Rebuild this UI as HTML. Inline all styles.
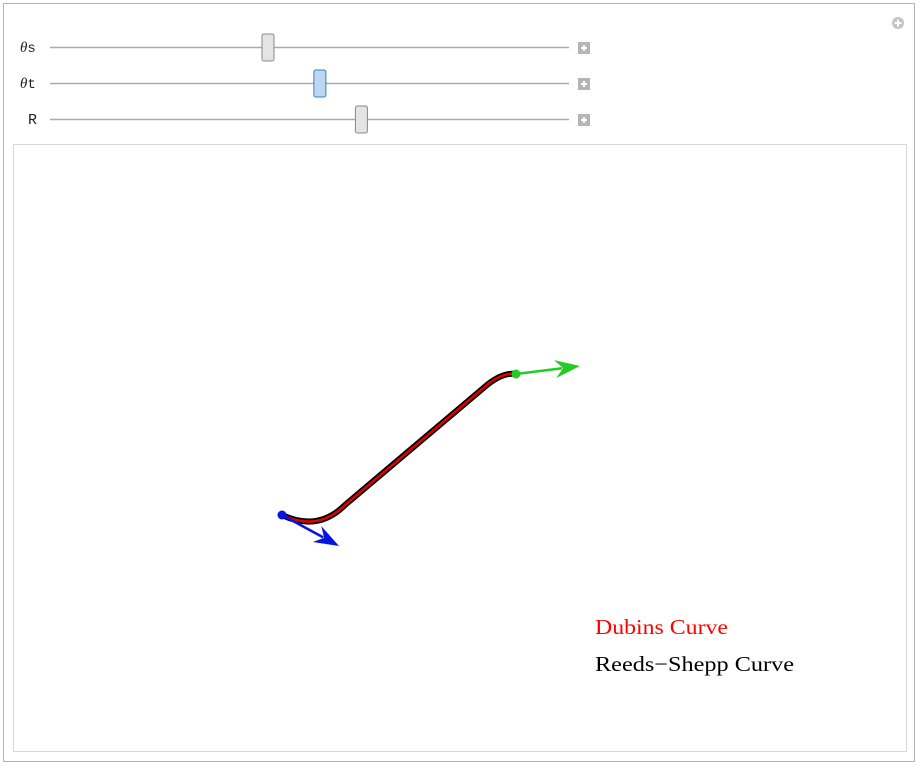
<!DOCTYPE html>
<html><head><meta charset="utf-8"><style>
body{margin:0;width:920px;height:766px;background:#fff;overflow:hidden;font-family:"Liberation Sans",sans-serif}
svg{position:absolute;left:0;top:0}
</style></head><body>
<svg width="920" height="766">
<rect x="3.5" y="3.5" width="911" height="758" fill="#fff" stroke="#b4b4b4"/>
<circle cx="898" cy="23" r="6" fill="#c4c4c4"/>
<path d="M898 19.5v7M894.5 23h7" stroke="#fff" stroke-width="2"/>
<g id="sliders"></g>
<rect x="13.5" y="144.5" width="893" height="607" fill="#fff" stroke="#d8d8d8"/>
<g id="plot"></g>
<text x="595" y="634" fill="#ff0000" font-family="Liberation Serif,serif" font-size="21" textLength="133" lengthAdjust="spacingAndGlyphs">Dubins Curve</text>
<text x="595" y="671" fill="#000" font-family="Liberation Serif,serif" font-size="21" textLength="199" lengthAdjust="spacingAndGlyphs">Reeds−Shepp Curve</text>
</svg>
<script>
const sliderLabels=["s","t","R"];
const sliderValues=[0.42,0.52,0.6];
// path: start, quad control, line start, line end, quad control, end
const pathX=[282,318,345,487,503,516];
const pathY=[515,532,505,385,372,374];
const startPt=[282,515], startDir=[57,31];
const endPt=[516,374], endDir=[64,-8];

const NS="http://www.w3.org/2000/svg";
function mk(t,a,p){const e=document.createElementNS(NS,t);for(const k in a)e.setAttribute(k,a[k]);p.appendChild(e);return e;}
const sg=document.getElementById('sliders');
sliderLabels.forEach((l,i)=>{
  const y=47+i*36;
  const tx=mk('text',{x:i==2?28:20,y:y+5,'font-size':15,fill:'#222'},sg);
  
  
  if(i<2){const a=mk('tspan',{'font-family':'Liberation Serif,serif','font-style':'italic'},tx);a.textContent='θ';
    const b=mk('tspan',{'font-family':'Liberation Mono,monospace','font-size':14},tx);b.textContent=l;}
  else{tx.setAttribute('font-family','Liberation Mono,monospace');tx.textContent=l;}
  const tr=mk('line',{x1:50,x2:569,y1:y+0.5,y2:y+0.5,stroke:'#aaa','stroke-width':1.5},sg);
  
  
  const hx=50+sliderValues[i]*519;
  const h=mk('rect',{x:hx-6,y:y-13,width:12,height:27,rx:2,fill:i==1?'#bcd8f0':'#e4e4e4',stroke:i==1?'#3c7fb1':'#888'},sg);
  
  
  const b=mk('rect',{x:578,y:y-5,width:12,height:12,fill:'#b4b4b4'},sg);
  
  
  mk('path',{d:`M584 ${y-2}v6M581 ${y+1}h6`,stroke:'#fff','stroke-width':2},sg);
});
const pg=document.getElementById('plot');
const d=`M${pathX[0]} ${pathY[0]} Q${pathX[1]} ${pathY[1]} ${pathX[2]} ${pathY[2]} L${pathX[3]} ${pathY[3]} Q${pathX[4]} ${pathY[4]} ${pathX[5]} ${pathY[5]}`;
const rs=mk('path',{d:d,fill:'none',stroke:'#000','stroke-width':6,'stroke-linejoin':'round','stroke-linecap':'round'},pg);


const db=mk('path',{d:d,fill:'none',stroke:'#e00000','stroke-width':2.5,'stroke-linejoin':'round'},pg);


function arrow(p,v,col,name){
  const x2=p[0]+v[0],y2=p[1]+v[1],L=Math.hypot(v[0],v[1]),ux=v[0]/L,uy=v[1]/L;
  const g=mk('g',{},pg);
  
  
  mk('line',{x1:p[0],y1:p[1],x2:x2-ux*18,y2:y2-uy*18,stroke:col,'stroke-width':2.5},g);
  const bx=x2-ux*25,by=y2-uy*25;
  mk('polygon',{points:`${x2},${y2} ${bx-uy*9},${by+ux*9} ${x2-ux*17},${y2-uy*17} ${bx+uy*9},${by-ux*9}`,fill:col},g);
  mk('circle',{cx:p[0],cy:p[1],r:4.5,fill:col},g);
}
arrow(startPt,startDir,'#0a14e0','start-arrow');
arrow(endPt,endDir,'#22cc22','end-arrow');
</script>
</body></html>
